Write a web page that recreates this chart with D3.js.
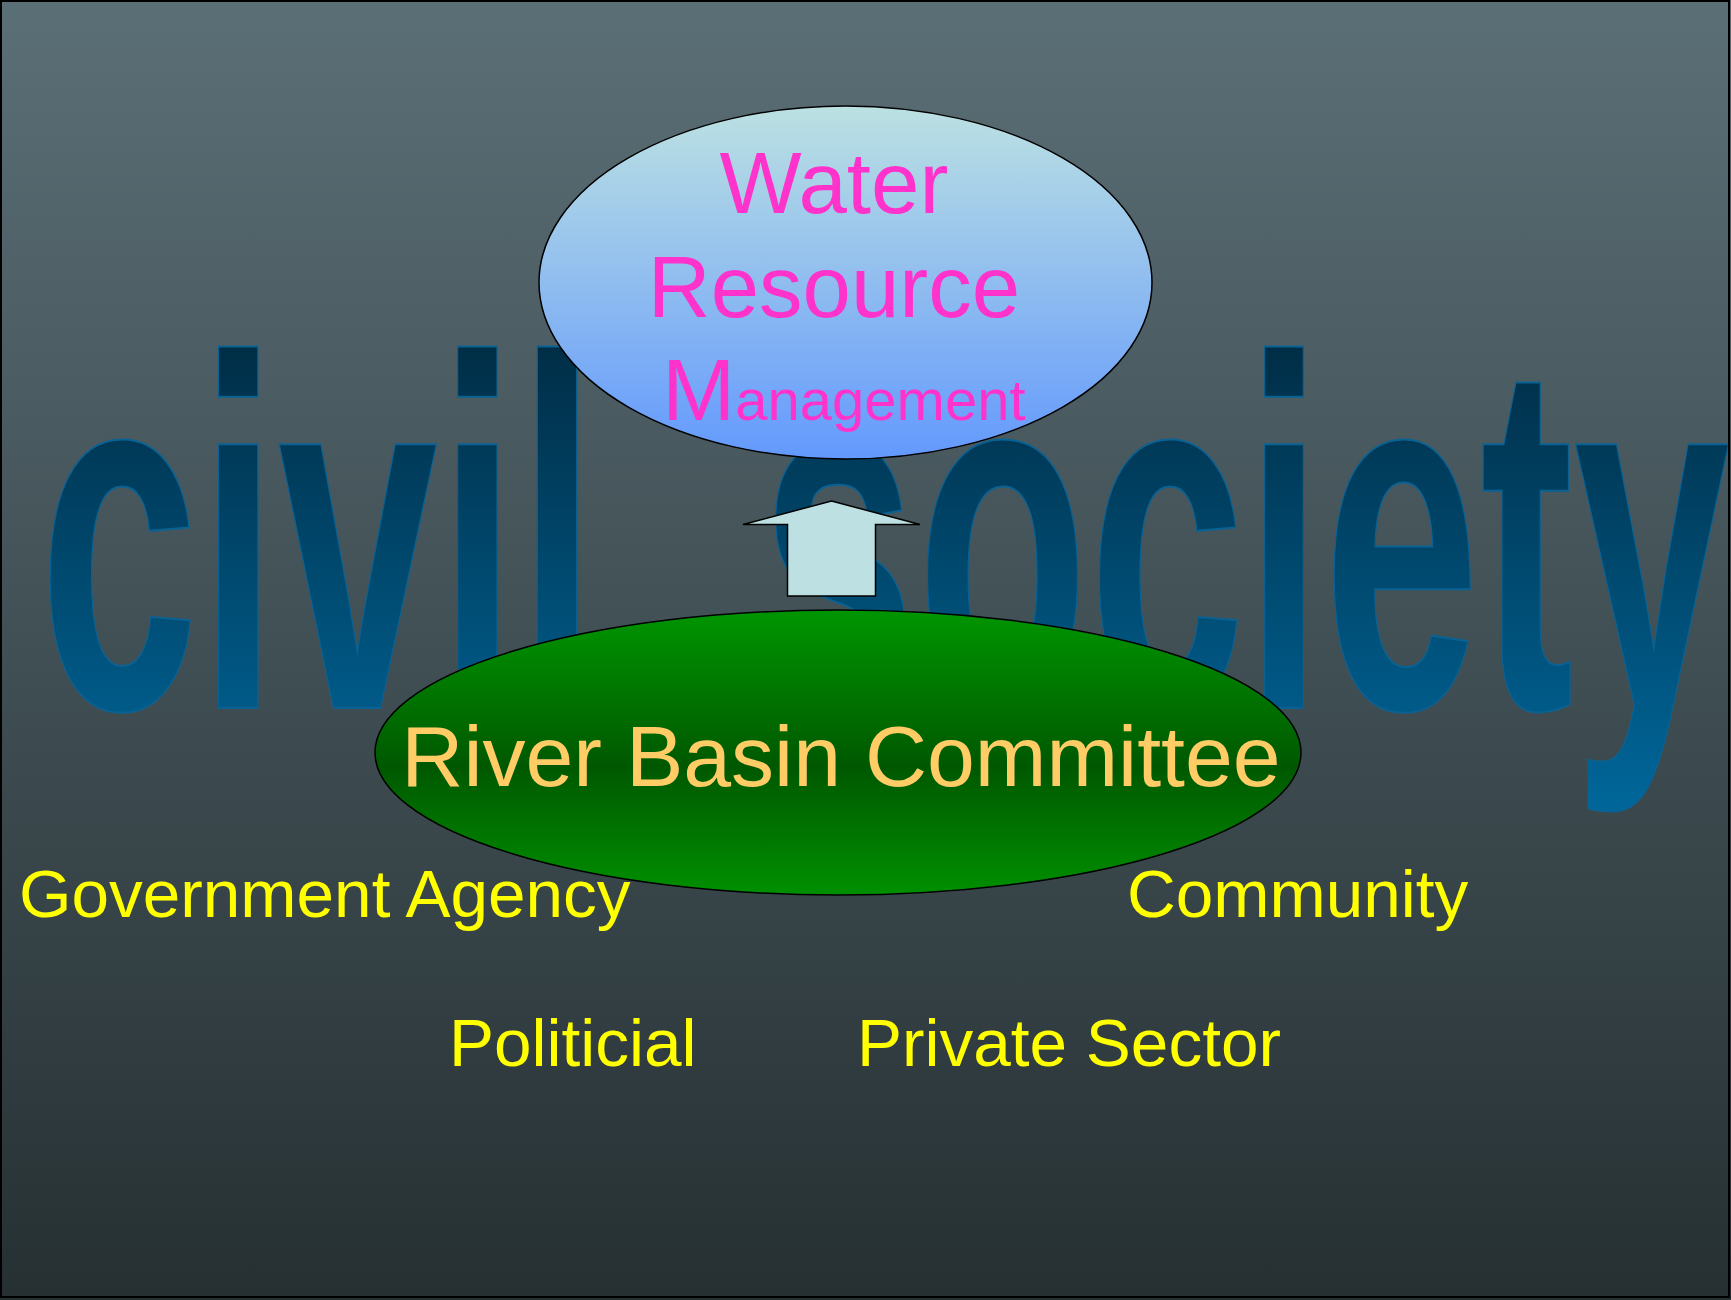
<!DOCTYPE html>
<html>
<head>
<meta charset="utf-8">
<script src="https://cdn.jsdelivr.net/npm/d3@7"></script>
<style>
  body { margin: 0; overflow: hidden; background: #ffffff; }
  text { font-family: "Liberation Sans", Arial, sans-serif; }
</style>
</head>
<body>
<div id="slide"></div>
<script>
// words and labels shown on the slide
const watermarkWords = ["civil", "society"];
const goalLines = ["Water", "Resource"];
const goalLast = ["M", "anagement"];
const committeeLabel = "River Basin Committee";
const stakeholders = ["Government Agency", "Community", "Politicial", "Private Sector"];

const width = 1731, height = 1300;

const svg = d3.select("#slide").append("svg")
    .attr("width", width)
    .attr("height", height);

const defs = svg.append("defs");

function vGradient(id, stops, attrs) {
    const g = defs.append("linearGradient").attr("id", id)
        .attr("x1", 0).attr("y1", 0).attr("x2", 0).attr("y2", 1);
    if (attrs) Object.keys(attrs).forEach(k => g.attr(k, attrs[k]));
    stops.forEach(s => g.append("stop").attr("offset", s[0]).attr("stop-color", s[1]));
}

vGradient("bgGrad", [[0, "#5b6f76"], [1, "#263033"]]);
vGradient("wmGrad", [[0, "#002e47"], [1, "#00679b"]],
    { gradientUnits: "userSpaceOnUse", y1: 350, y2: 815, x1: 0, x2: 0 });
vGradient("goalGrad", [[0, "#bce1e2"], [1, "#6399fd"]]);
vGradient("rbcGrad", [[0, "#009600"], [0.55, "#005800"], [1, "#009000"]]);

// background
svg.append("rect")
    .attr("width", width).attr("height", height)
    .attr("fill", "url(#bgGrad)");

// big "civil society" watermark, condensed and stretched tall
const wm = { size: 499, baseline: 708, slots: [{ x: 39, len: 558 }, { x: 760, len: 970 }] };
svg.append("g").selectAll("text")
    .data(watermarkWords)
    .join("text")
    .attr("x", (d, i) => wm.slots[i].x)
    .attr("y", wm.baseline)
    .attr("textLength", (d, i) => wm.slots[i].len)
    .attr("lengthAdjust", "spacingAndGlyphs")
    .style("font-size", wm.size + "px")
    .style("font-weight", "bold")
    .attr("fill", "url(#wmGrad)")
    .attr("stroke", "#0a6294")
    .attr("stroke-width", 2)
    .text(d => d);

// top ellipse: Water Resource Management
const goal = { cx: 845.5, cy: 282.5, rx: 306.5, ry: 176.5 };
svg.append("ellipse")
    .attr("cx", goal.cx).attr("cy", goal.cy)
    .attr("rx", goal.rx).attr("ry", goal.ry)
    .attr("fill", "url(#goalGrad)")
    .attr("stroke", "#000").attr("stroke-width", 1.5);

const goalY = d3.scalePoint().domain(goalLines).range([213, 317]);
svg.append("g").selectAll("text")
    .data(goalLines)
    .join("text")
    .attr("x", 834)
    .attr("y", d => goalY(d))
    .attr("text-anchor", "middle")
    .style("font-size", "87px")
    .attr("fill", "#ff33cc")
    .text(d => d);

const mg = svg.append("text")
    .attr("x", 662)
    .attr("y", 420)
    .attr("fill", "#ff33cc");
mg.selectAll("tspan")
    .data(goalLast)
    .join("tspan")
    .style("font-size", (d, i) => i === 0 ? "88px" : "58px")
    .text(d => d);

// arrow from committee up to management
const arrow = { cx: 831.5, tip: 501, headBase: 524.5, headHalf: 88.5, shaftHalf: 44, bottom: 596 };
const arrowPts = [
    [arrow.cx, arrow.tip],
    [arrow.cx + arrow.headHalf, arrow.headBase],
    [arrow.cx + arrow.shaftHalf, arrow.headBase],
    [arrow.cx + arrow.shaftHalf, arrow.bottom],
    [arrow.cx - arrow.shaftHalf, arrow.bottom],
    [arrow.cx - arrow.shaftHalf, arrow.headBase],
    [arrow.cx - arrow.headHalf, arrow.headBase]
];
svg.append("path")
    .attr("d", d3.line()(arrowPts) + "Z")
    .attr("fill", "#bde0e2")
    .attr("stroke", "#000")
    .attr("stroke-width", 1.5)
    .attr("stroke-linejoin", "miter");

// green ellipse: River Basin Committee
const rbc = { cx: 838, cy: 752.5, rx: 463, ry: 142.5 };
svg.append("ellipse")
    .attr("cx", rbc.cx).attr("cy", rbc.cy)
    .attr("rx", rbc.rx).attr("ry", rbc.ry)
    .attr("fill", "url(#rbcGrad)")
    .attr("stroke", "#000").attr("stroke-width", 1.5);

svg.append("text")
    .attr("x", 841)
    .attr("y", 786)
    .attr("text-anchor", "middle")
    .style("font-size", "86px")
    .attr("fill", "#ffcc66")
    .text(committeeLabel);

// stakeholder labels around the committee
const labelPos = {
    "Government Agency": [19, 917],
    "Community": [1127, 917],
    "Politicial": [449, 1066],
    "Private Sector": [857, 1066]
};
svg.append("g").selectAll("text")
    .data(stakeholders)
    .join("text")
    .attr("x", d => labelPos[d][0])
    .attr("y", d => labelPos[d][1])
    .style("font-size", "67.5px")
    .attr("fill", "#ffff00")
    .text(d => d);

// slide frame
svg.append("rect")
    .attr("x", 1).attr("y", 1)
    .attr("width", 1728).attr("height", 1296)
    .attr("fill", "none")
    .attr("stroke", "#000")
    .attr("stroke-width", 2);
</script>
</body>
</html>
